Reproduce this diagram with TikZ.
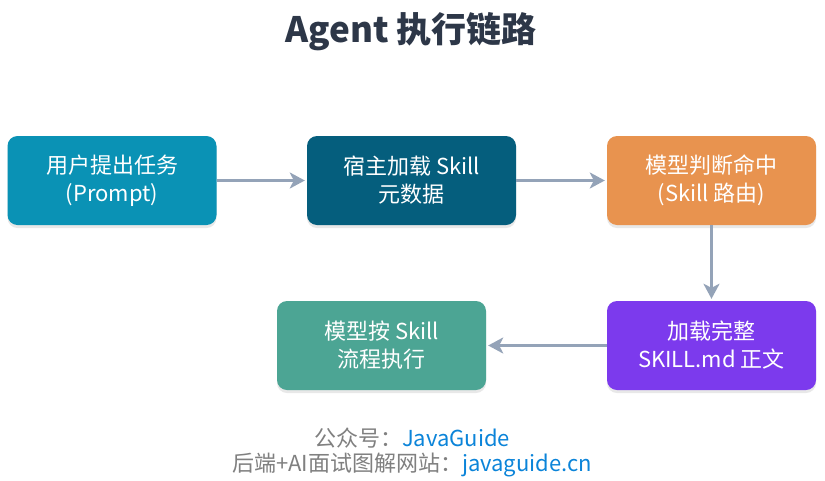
\documentclass[tikz,border=0pt]{standalone}
\usepackage{fontspec}
\setmainfont{Noto Sans CJK SC}
\usetikzlibrary{shadows,arrows.meta}
\definecolor{cA}{HTML}{0A92B5}
\definecolor{cB}{HTML}{055E7D}
\definecolor{cC}{HTML}{E8934F}
\definecolor{cD}{HTML}{7C3AED}
\definecolor{cE}{HTML}{4CA594}
\definecolor{arr}{HTML}{94A3B8}
\definecolor{ttl}{HTML}{2D3748}
\definecolor{foot}{HTML}{808080}
\definecolor{lnk}{HTML}{0B84D9}
\tikzset{
  box/.style={rectangle, rounded corners=10pt, minimum width=209pt, minimum height=89pt,
    align=center, text=white, font=\fontsize{22}{28}\selectfont, inner sep=0pt,
    drop shadow={opacity=0.18, shadow xshift=0pt, shadow yshift=-3pt}},
  flow/.style={draw=arr, line width=2.5pt, -{Stealth[length=15pt,width=16pt,inset=4pt]}, shorten >=2pt},
  foottext/.style={font=\fontsize{22}{26}\selectfont, text=foot}
}
\begin{document}
\begin{tikzpicture}[x=1pt,y=-1pt]
\useasboundingbox[fill=white] (0,0) rectangle (825,480);
\node[font=\fontsize{35}{40}\selectfont\bfseries, text=ttl] (title) at (411,32) {Agent 执行链路};
\node[box, fill=cA] (b1) at (112,180.5) {用户提出任务\\(Prompt)};
\node[box, fill=cB] (b2) at (411.5,180.5) {宿主加载 Skill\\元数据};
\node[box, fill=cC] (b3) at (711.5,180.5) {模型判断命中\\(Skill 路由)};
\node[box, fill=cD] (b4) at (711.5,345.5) {加载完整\\SKILL.md 正文};
\node[box, fill=cE] (b5) at (381.5,345.5) {模型按 Skill\\流程执行};
\draw[flow] (b1) -- (b2);
\draw[flow] (b2) -- (b3);
\draw[flow] (b3) -- (b4);
\draw[flow] (b4) -- (b5);
\node[foottext] (f1) at (412,438) {公众号：\textcolor{lnk}{JavaGuide}};
\node[foottext] (f2) at (412,465) {后端+AI面试图解网站：\textcolor{lnk}{javaguide.cn}};
\end{tikzpicture}
\end{document}
